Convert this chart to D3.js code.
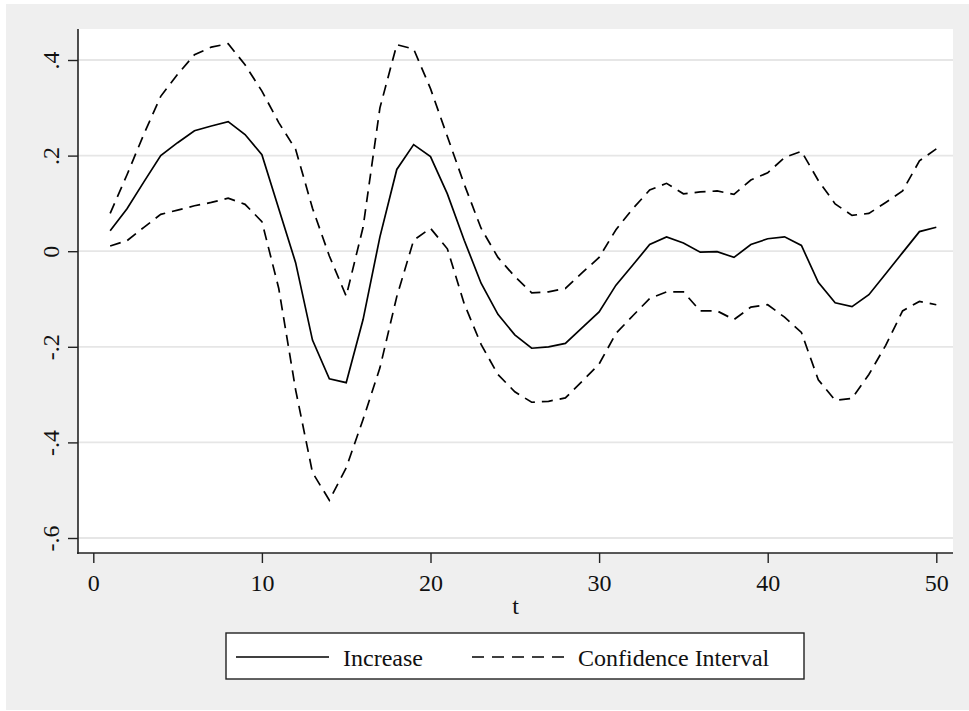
<!DOCTYPE html>
<html>
<head>
<meta charset="utf-8">
<script src="https://cdnjs.cloudflare.com/ajax/libs/d3/7.8.5/d3.min.js"></script>
<style>
  body { margin: 0; background: #fff; }
</style>
</head>
<body>
<div id="chart"></div>
<script>
// values, t = 1..50
var t = d3.range(1, 51);

var increase = [0.043, 0.089, 0.145, 0.200, 0.227, 0.252, 0.262, 0.271, 0.244, 0.202,
  0.089, -0.024, -0.186, -0.267, -0.275, -0.143, 0.030, 0.171, 0.223, 0.198,
  0.120, 0.023, -0.067, -0.132, -0.175, -0.203, -0.200, -0.193, -0.160, -0.127,
  -0.071, -0.029, 0.014, 0.030, 0.017, -0.002, -0.001, -0.013, 0.014, 0.026,
  0.030, 0.012, -0.065, -0.108, -0.116, -0.091, -0.047, -0.003, 0.041, 0.050];

var upper = [0.079, 0.160, 0.245, 0.324, 0.370, 0.411, 0.427, 0.434, 0.390, 0.335,
  0.269, 0.213, 0.090, -0.010, -0.094, 0.050, 0.300, 0.432, 0.423, 0.340,
  0.240, 0.140, 0.048, -0.013, -0.053, -0.087, -0.085, -0.078, -0.045, -0.013,
  0.045, 0.089, 0.128, 0.142, 0.120, 0.124, 0.126, 0.119, 0.149, 0.164,
  0.196, 0.209, 0.148, 0.099, 0.075, 0.079, 0.102, 0.126, 0.189, 0.214];

var lower = [0.011, 0.022, 0.050, 0.077, 0.086, 0.095, 0.102, 0.111, 0.098, 0.062,
  -0.078, -0.290, -0.463, -0.521, -0.453, -0.352, -0.244, -0.095, 0.023, 0.048,
  0.005, -0.110, -0.195, -0.258, -0.294, -0.316, -0.314, -0.307, -0.272, -0.236,
  -0.172, -0.135, -0.099, -0.085, -0.085, -0.125, -0.125, -0.143, -0.117, -0.112,
  -0.138, -0.170, -0.269, -0.312, -0.308, -0.258, -0.197, -0.125, -0.105, -0.112];

var xTicks = [0, 10, 20, 30, 40, 50];
var yTicks = [-0.6, -0.4, -0.2, 0, 0.2, 0.4];
var yTickLabels = ["-.6", "-.4", "-.2", "0", ".2", ".4"];
var legendLabels = ["Increase", "Confidence Interval"];

var W = 969, H = 711;
var plot = {left: 78, right: 953, top: 29, bottom: 553};
var FONT = "'Liberation Serif', 'DejaVu Serif', serif";

var svg = d3.select("#chart")
  .append("svg")
    .attr("width", W)
    .attr("height", H)
    .style("font-family", FONT);

// gray graph region
svg.append("rect")
  .attr("x", 6).attr("y", 4)
  .attr("width", W - 6).attr("height", 706)
  .attr("fill", "#efefef");

// white plot region
svg.append("rect")
  .attr("x", plot.left).attr("y", plot.top)
  .attr("width", plot.right - plot.left)
  .attr("height", plot.bottom - plot.top)
  .attr("fill", "#fff");

var x = d3.scaleLinear()
  .domain([0, 50])
  .range([93.3, 936.3]);

var y = d3.scaleLinear()
  .domain([-0.6, 0.4])
  .range([538, 60]);

// grid lines
svg.append("g")
  .selectAll("line")
  .data(yTicks)
  .enter()
  .append("line")
    .attr("x1", plot.left)
    .attr("x2", plot.right)
    .attr("y1", function(d) { return y(d); })
    .attr("y2", function(d) { return y(d); })
    .attr("stroke", "#e6e6e6")
    .attr("stroke-width", 1.8);

// Y axis
var yAxis = svg.append("g")
  .attr("transform", "translate(" + plot.left + ",0)")
  .call(d3.axisLeft(y)
    .tickValues(yTicks)
    .tickFormat(function(d, i) { return yTickLabels[i]; })
    .tickSize(10)
    .tickSizeOuter(0));

yAxis.attr("font-family", null);
yAxis.select(".domain").remove();
yAxis.append("line")
  .attr("x1", 0).attr("x2", 0)
  .attr("y1", plot.top).attr("y2", plot.bottom + 1)
  .attr("stroke", "#222")
  .attr("stroke-width", 1.6);
yAxis.selectAll(".tick line").attr("stroke", "#222").attr("stroke-width", 1.4);
yAxis.selectAll(".tick text")
  .attr("x", 0).attr("y", 0).attr("dy", 0)
  .attr("transform", "translate(-19,0) rotate(-90)")
  .style("text-anchor", "middle")
  .style("font-family", FONT)
  .style("font-size", "24px")
  .attr("fill", "#111");

// X axis
var xAxis = svg.append("g")
  .attr("transform", "translate(0," + plot.bottom + ")")
  .call(d3.axisBottom(x)
    .tickValues(xTicks)
    .tickSize(10)
    .tickSizeOuter(0));

xAxis.attr("font-family", null);
xAxis.select(".domain").remove();
xAxis.append("line")
  .attr("x1", plot.left - 1).attr("x2", plot.right)
  .attr("y1", 0).attr("y2", 0)
  .attr("stroke", "#222")
  .attr("stroke-width", 1.6);
xAxis.selectAll(".tick line").attr("stroke", "#222").attr("stroke-width", 1.4);
xAxis.selectAll(".tick text")
  .attr("y", 38).attr("dy", 0)
  .style("font-family", FONT)
  .style("font-size", "24px")
  .attr("fill", "#111");

svg.append("text")
  .attr("x", (plot.left + plot.right) / 2)
  .attr("y", 614)
  .attr("text-anchor", "middle")
  .style("font-family", FONT)
  .style("font-size", "24px")
  .attr("fill", "#111")
  .text("t");

// lines
var line = function(vals) {
  return d3.line()
    .x(function(d, i) { return x(t[i]); })
    .y(function(d) { return y(d); })(vals);
};

svg.append("path")
  .attr("d", line(upper))
  .attr("fill", "none")
  .attr("stroke", "#000")
  .attr("stroke-width", 1.7)
  .attr("stroke-dasharray", "11,7");

svg.append("path")
  .attr("d", line(lower))
  .attr("fill", "none")
  .attr("stroke", "#000")
  .attr("stroke-width", 1.7)
  .attr("stroke-dasharray", "11,7");

svg.append("path")
  .attr("d", line(increase))
  .attr("fill", "none")
  .attr("stroke", "#000")
  .attr("stroke-width", 1.7);

// legend
var legend = svg.append("g");
legend.append("rect")
  .attr("x", 226).attr("y", 633)
  .attr("width", 578).attr("height", 46)
  .attr("fill", "#fff")
  .attr("stroke", "#222")
  .attr("stroke-width", 1.4);

legend.append("line")
  .attr("x1", 236).attr("x2", 329)
  .attr("y1", 657).attr("y2", 657)
  .attr("stroke", "#000").attr("stroke-width", 1.7);
legend.append("text")
  .attr("x", 343).attr("y", 666)
  .style("font-family", FONT)
  .style("font-size", "24px")
  .attr("fill", "#111")
  .text(legendLabels[0]);

legend.append("line")
  .attr("x1", 472).attr("x2", 564)
  .attr("y1", 657).attr("y2", 657)
  .attr("stroke", "#000").attr("stroke-width", 1.7)
  .attr("stroke-dasharray", "12,8");
legend.append("text")
  .attr("x", 578).attr("y", 666)
  .style("font-family", FONT)
  .style("font-size", "24px")
  .attr("fill", "#111")
  .text(legendLabels[1]);
</script>
</body>
</html>
